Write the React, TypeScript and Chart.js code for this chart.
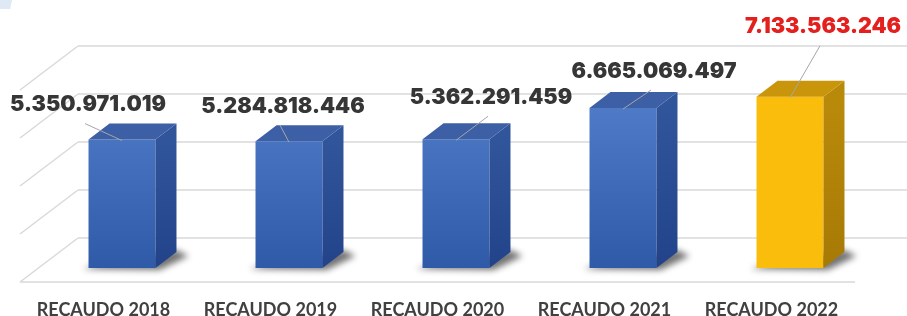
import React, { useEffect, useRef } from "react";
import { Chart, registerables } from "chart.js";

Chart.register(...registerables);

// ---- data ----
const CATEGORIES = ["RECAUDO 2018", "RECAUDO 2019", "RECAUDO 2020", "RECAUDO 2021", "RECAUDO 2022"];
const VALUES = [5350971019, 5284818446, 5362291459, 6665069497, 7133563246];
const AXIS_MIN = 0;
const AXIS_MAX = 8000000000;
const AXIS_STEP = 2000000000;
const HIGHLIGHT_INDEX = 4;

// ---- layout / style (not data) ----
// label offset (px) from the bar's front-top centre, as manually placed in the original
const LABEL_OFFSETS: [number, number][] = [[-34, -35], [-6, -35], [35, -42], [31, -37], [33, -70]];
const FRONT = { x: -18.5, y: 14 }; // floor front edge relative to bar plane
const BACK = { x: 39.5, y: -30 }; // back wall relative to bar plane
const BAR_D = { x: 21, y: -16 }; // bar depth

const fmt = (v: number) => String(v).replace(/\B(?=(\d{3})+(?!\d))/g, ".");

const threeD = {
  id: "threeD",
  beforeDatasetsDraw(chart: any) {
    const { ctx, chartArea, scales } = chart;
    const y = scales.y;
    const { left, right } = chartArea;
    ctx.save();
    ctx.strokeStyle = "#d9d9d9";
    ctx.lineWidth = 1.5;
    y.ticks.forEach((t: any) => {
      const py = y.getPixelForValue(t.value);
      ctx.beginPath();
      ctx.moveTo(left + BACK.x, py + BACK.y);
      ctx.lineTo(chart.width + 20, py + BACK.y);
      ctx.moveTo(left + FRONT.x, py + FRONT.y);
      ctx.lineTo(left + BACK.x, py + BACK.y);
      ctx.stroke();
    });
    const y0 = y.getPixelForValue(0);
    ctx.beginPath();
    ctx.moveTo(left + FRONT.x, y0 + FRONT.y);
    ctx.lineTo(right + FRONT.x, y0 + FRONT.y);
    ctx.stroke();

    // shadows
    const meta = chart.getDatasetMeta(0);
    ctx.filter = "blur(3px)";
    ctx.fillStyle = "rgba(0,0,0,0.55)";
    meta.data.forEach((bar: any) => {
      const xL = bar.x - bar.width / 2;
      const xR = bar.x + bar.width / 2;
      const yB = bar.base;
      ctx.beginPath();
      ctx.moveTo(xL - 6, yB + 1);
      ctx.lineTo(xR + 4, yB + 2);
      ctx.lineTo(xR + BAR_D.x + 12, yB + BAR_D.y + 4);
      ctx.lineTo(xR + BAR_D.x, yB + BAR_D.y - 2);
      ctx.lineTo(xL + 10, yB - 4);
      ctx.closePath();
      ctx.fill();
    });
    ctx.filter = "none";
    ctx.restore();
  },
  afterDatasetsDraw(chart: any) {
    const { ctx } = chart;
    const meta = chart.getDatasetMeta(0);
    ctx.save();
    meta.data.forEach((bar: any, i: number) => {
      const hi = i === HIGHLIGHT_INDEX;
      const xL = bar.x - bar.width / 2;
      const xR = bar.x + bar.width / 2;
      const yT = bar.y;
      const yB = bar.base;
      // side face
      const sg = ctx.createLinearGradient(0, yT, 0, yB);
      if (hi) {
        sg.addColorStop(0, "#b98a0a");
        sg.addColorStop(1, "#a77a06");
      } else {
        sg.addColorStop(0, "#31559a");
        sg.addColorStop(1, "#22438a");
      }
      ctx.fillStyle = sg;
      ctx.beginPath();
      ctx.moveTo(xR, yT);
      ctx.lineTo(xR + BAR_D.x, yT + BAR_D.y);
      ctx.lineTo(xR + BAR_D.x, yB + BAR_D.y);
      ctx.lineTo(xR, yB);
      ctx.closePath();
      ctx.fill();
      // top face
      ctx.fillStyle = hi ? "#c9950b" : "#3d5fa6";
      ctx.beginPath();
      ctx.moveTo(xL, yT);
      ctx.lineTo(xL + BAR_D.x, yT + BAR_D.y);
      ctx.lineTo(xR + BAR_D.x, yT + BAR_D.y);
      ctx.lineTo(xR, yT);
      ctx.closePath();
      ctx.fill();
    });
    // labels + leader lines
    meta.data.forEach((bar: any, i: number) => {
      const hi = i === HIGHLIGHT_INDEX;
      const [ox, oy] = LABEL_OFFSETS[i];
      const lx = bar.x + ox;
      const ly = bar.y + oy;
      ctx.strokeStyle = "#a6a6a6";
      ctx.lineWidth = 1;
      ctx.beginPath();
      ctx.moveTo(lx - 3, ly + 19);
      ctx.lineTo(bar.x, bar.y + 1);
      ctx.stroke();
      ctx.font = "900 21.5px Inter";
      ctx.textAlign = "center";
      ctx.textBaseline = "middle";
      ctx.fillStyle = hi ? "#e3201e" : "#363636";
      ctx.fillText(fmt(VALUES[i]), lx, ly);
    });
    ctx.restore();
  },
};

export default function App() {
  const ref = useRef<HTMLCanvasElement>(null);
  useEffect(() => {
    const chart = new Chart(ref.current!, {
      type: "bar",
      data: {
        labels: CATEGORIES,
        datasets: [
          {
            data: VALUES,
            borderWidth: 0,
            categoryPercentage: 1,
            barPercentage: 0.401,
            backgroundColor: (c: any) => {
              if (c.dataIndex === HIGHLIGHT_INDEX) return "#fabd0b";
              const area = c.chart.chartArea;
              if (!area) return "#4470bd";
              const g = c.chart.ctx.createLinearGradient(0, area.top, 0, area.bottom);
              g.addColorStop(0, "#5480cc");
              g.addColorStop(1, "#2f5aa8");
              return g;
            },
          },
        ],
      },
      options: {
        responsive: false,
        animation: false,
        devicePixelRatio: 1,
        layout: { padding: { left: 38.5, right: 33.5, top: 76, bottom: 0 } },
        plugins: { legend: { display: false }, tooltip: { enabled: false } },
        scales: {
          x: {
            grid: { display: false, drawTicks: false },
            border: { display: false },
            ticks: {
              font: { family: "Lato", weight: "bold", size: 18 },
              color: "#404040",
              padding: 31,
              labelOffset: -18.5,
              maxRotation: 0,
              autoSkip: false,
            },
            afterFit: (s: any) => {
              s.height = 48;
            },
          },
          y: {
            min: AXIS_MIN,
            max: AXIS_MAX,
            ticks: { stepSize: AXIS_STEP, display: false },
            grid: { display: false },
            border: { display: false },
            afterFit: (s: any) => {
              s.width = 0;
            },
          },
        },
      },
      plugins: [threeD],
    });
    return () => chart.destroy();
  }, []);
  return (
    <div style={{ position: "fixed", left: 0, top: 0, width: 907, height: 316, background: "#fff" }}>
      <div
        style={{
          position: "absolute",
          left: 0,
          top: 0,
          width: 12,
          height: 9,
          background: "#dfe9f5",
          clipPath: "polygon(0 0,100% 0,85% 100%,0 100%)",
        }}
      />
      <canvas ref={ref} width={907} height={316} style={{ position: "absolute", left: 0, top: 0, width: 907, height: 316 }} />
    </div>
  );
}
